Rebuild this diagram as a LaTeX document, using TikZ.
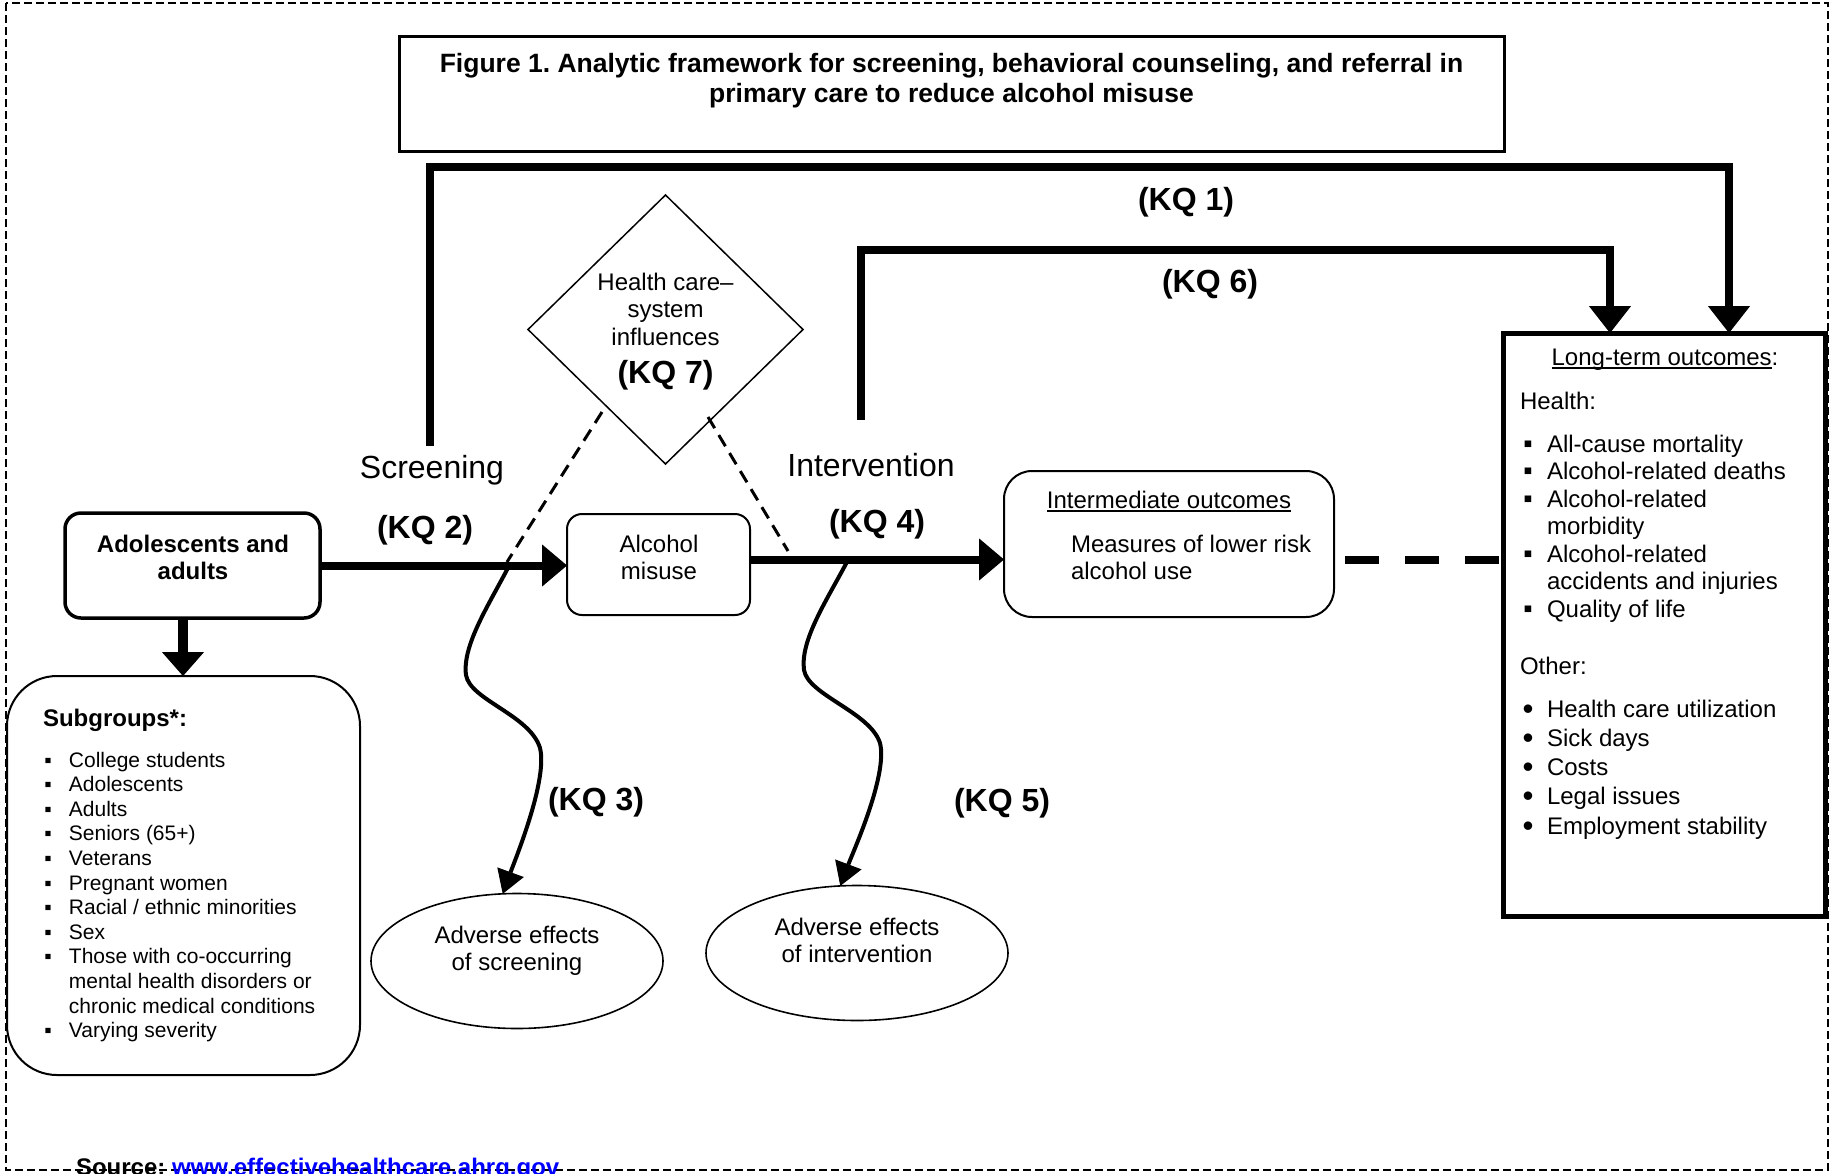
\documentclass[tikz,border=0pt]{standalone}
\usepackage{fontspec}
\usepackage{graphicx}
\setmainfont{Liberation Sans}
\usetikzlibrary{arrows.meta,shapes.geometric}
\frenchspacing
\definecolor{linkblue}{RGB}{0,0,255}
\newcommand\fbody{\fontsize{24}{27.5}\selectfont}
\newcommand\fsub{\fontsize{21}{24.6}\selectfont}
\newcommand\fkq{\fontsize{32}{36}\selectfont}
\newcommand\ftitle{\fontsize{26.5}{30.2}\selectfont\bfseries}
\newcommand\cstack[1]{\begin{tabular}[t]{@{}c@{}}#1\end{tabular}}
\newcommand\lstack[1]{\begin{tabular}[t]{@{}l@{}}#1\end{tabular}}
\newsavebox\undlbox
\newcommand\undl[1]{\sbox\undlbox{#1}\rlap{\rule[-3.5pt]{\wd\undlbox}{1.8pt}}\usebox\undlbox}
\newcommand\bsq{\makebox[16pt]{\scalebox{1.1}{▪}}}
\newcommand\bdot{\makebox[16pt]{\raisebox{-2pt}{\scalebox{1.3}{•}}}}
\newcommand\ssq{\makebox[14pt]{▪}}
\begin{document}
\begin{tikzpicture}[x=1pt,y=-1pt,
  every node/.style={inner sep=0pt,outer sep=0pt},
  frame/.style={draw,line width=1.5pt,dash pattern=on 8pt off 4pt},
  plainbox/.style={draw,line width=2pt,rectangle},
  roundbox/.style={draw,line width=2pt,rectangle,rounded corners=#1},
  mainarrow/.style={line width=8pt,-{Triangle[length=25pt,width=42pt,line width=1pt]}},
  kqline/.style={line width=8pt,-{Triangle[length=27pt,width=42pt,line width=1pt]}},
  downarrow/.style={line width=10pt,-{Triangle[length=24pt,width=42pt,line width=1pt]}},
  harmarrow/.style={line width=4pt,-{Triangle[length=23pt,width=28pt,line width=1pt]}},
  infl/.style={line width=3pt,dash pattern=on 13pt off 8pt},
  linkdash/.style={line width=8pt,dash pattern=on 34pt off 26pt},
  kqlabel/.style={font=\fkq\bfseries,anchor=base},
  steplabel/.style={font=\fkq,anchor=base},
  bodytext/.style={font=\fbody,anchor=base}
]
\useasboundingbox (0,0) rectangle (1831,1173);
\draw[frame] (6,3) rectangle (1828,1170);

% title
\node[plainbox,line width=3pt,minimum width=1105pt,minimum height=115pt] (title) at (951.5,93.5) {};
\node[anchor=base,font=\ftitle] (titletxt) at (951.5,72.5)
  {\cstack{Figure 1. Analytic framework for screening, behavioral counseling, and referral in\\primary care to reduce alcohol misuse}};

% main nodes
\node[roundbox=16pt,line width=3.5pt,minimum width=255pt,minimum height=105pt] (adol) at (192.5,565.5) {};
\node[bodytext,font=\fbody\bfseries] (adoltxt) at (193,552) {\cstack{Adolescents and\\adults}};

\node[roundbox=15pt,minimum width=183pt,minimum height=101pt] (alc) at (658.5,564.5) {};
\node[bodytext] (alctxt) at (659,552) {\cstack{Alcohol\\misuse}};

\node[roundbox=28pt,minimum width=330pt,minimum height=146pt] (inter) at (1169,544) {};
\node[bodytext] (intertitle) at (1169,508) {\undl{Intermediate outcomes}};
\node[bodytext,anchor=base west] (intertxt) at (1071,552) {\lstack{Measures of lower risk\\alcohol use}};

\node[draw,diamond,line width=1.5pt,minimum width=275pt,minimum height=269pt] (hcs) at (665.5,329.5) {};
\node[bodytext] (hcstxt) at (665.5,290) {\cstack{Health care–\\system\\influences}};
\node[kqlabel] (kq7) at (665.5,383) {(KQ 7)};

\node[plainbox,line width=5pt,minimum width=322pt,minimum height=583pt] (lt) at (1664.5,624.5) {};
\node[bodytext] (lttitle) at (1665,365) {\undl{Long-term outcomes}:};
\node[bodytext,anchor=base west] (ltlist) at (1520,409) {%
\begin{tabular}[t]{@{}c@{\hspace{11pt}}l@{}}
\multicolumn{2}{@{}l@{}}{Health:}\\[15.5pt]
\bsq & All-cause mortality\\
\bsq & Alcohol-related deaths\\
\bsq & Alcohol-related\\
 & morbidity\\
\bsq & Alcohol-related\\
 & accidents and injuries\\
\bsq & Quality of life\\[29.5pt]
\multicolumn{2}{@{}l@{}}{Other:}\\[15.5pt]
\bdot & Health care utilization\\[1.75pt]
\bdot & Sick days\\[1.75pt]
\bdot & Costs\\[1.75pt]
\bdot & Legal issues\\[1.75pt]
\bdot & Employment stability
\end{tabular}};

\node[roundbox=50pt,minimum width=353pt,minimum height=399pt] (sub) at (183.5,875.5) {};
\node[bodytext,anchor=base west,font=\fbody\bfseries] (subtitle) at (43,726) {Subgroups*:};
\node[anchor=base west,font=\fsub] (sublist) at (41,767) {%
\begin{tabular}[t]{@{}c@{\hspace{14pt}}l@{}}
\ssq & College students\\
\ssq & Adolescents\\
\ssq & Adults\\
\ssq & Seniors (65+)\\
\ssq & Veterans\\
\ssq & Pregnant women\\
\ssq & Racial / ethnic minorities\\
\ssq & Sex\\
\ssq & Those with co-occurring\\
 & mental health disorders or\\
 & chronic medical conditions\\
\ssq & Varying severity
\end{tabular}};

\node[draw,ellipse,line width=1.6pt,minimum width=292pt,minimum height=135pt] (adv1) at (517,961) {};
\node[bodytext] (adv1txt) at (517,943) {\cstack{Adverse effects\\of screening}};
\node[draw,ellipse,line width=1.6pt,minimum width=302pt,minimum height=135pt] (adv2) at (857,953) {};
\node[bodytext] (adv2txt) at (857,935) {\cstack{Adverse effects\\of intervention}};

% labels
\node[steplabel] (scr) at (432,478.5) {Screening};
\node[steplabel] (intv) at (871,476) {Intervention};
\node[kqlabel] (kq1) at (1186,210.5) {(KQ 1)};
\node[kqlabel] (kq6) at (1210,292.5) {(KQ 6)};
\node[kqlabel] (kq2) at (425,538.5) {(KQ 2)};
\node[kqlabel] (kq4) at (877,532.5) {(KQ 4)};
\node[kqlabel] (kq3) at (596,810) {(KQ 3)};
\node[kqlabel] (kq5) at (1002,811) {(KQ 5)};

% connectors
\coordinate (kqAstart) at (430,446);
\coordinate (kqAcorner) at (1729,167);
\draw[kqline] (kqAstart) |- (kqAcorner) -- (kqAcorner |- lt.north);
\coordinate (kqFstart) at (861,420);
\coordinate (kqFcorner) at (1610,250);
\draw[kqline] (kqFstart) |- (kqFcorner) -- (kqFcorner |- lt.north);

\draw[mainarrow] (adol.east) -- (adol.east -| alc.west);
\coordinate (kq4s) at ([yshift=5pt]alc.east);
\draw[mainarrow] (kq4s) -- (kq4s -| inter.west);
\coordinate (lnk) at (1345,560);
\draw[linkdash] (lnk) -- (lnk -| lt.west);

\coordinate (sgx) at (183,0);
\draw[downarrow] (adol.south -| sgx) -- (sub.north -| sgx);

\coordinate (hl1) at (602,412);
\coordinate (hl2) at (507,562);
\coordinate (hr1) at (708,417);
\coordinate (hr2) at (788,551);
\draw[infl] (hl1) -- (hl2);
\draw[infl] (hr1) -- (hr2);

\coordinate (w3) at (510,564);
\draw[harmarrow] (w3) .. controls (490,603) and (462,645) .. (466,675)
  .. controls (470,700) and (530,715) .. (540,748)
  .. controls (548,780) and (515,860) .. (adv1.102);
\coordinate (w5) at (848,560);
\draw[harmarrow] (w5) .. controls (827,600) and (800,640) .. (804,670)
  .. controls (808,695) and (870,712) .. (880,743)
  .. controls (888,775) and (853,852) .. (adv2.104);

% source
\node[anchor=base west,font=\fontsize{24}{27}\selectfont\bfseries] (src) at (76,1175)
  {Source: \textcolor{linkblue}{\undl{www.effectivehealthcare.ahrq.gov}}};
\end{tikzpicture}
\end{document}
